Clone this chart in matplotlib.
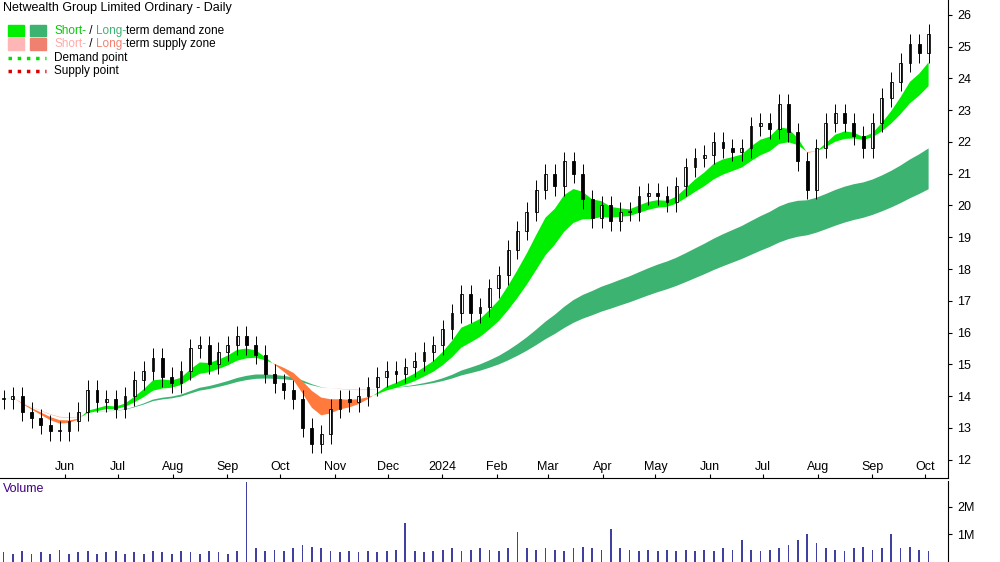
import matplotlib.pyplot as plt
import matplotlib.patches as mpatches
import numpy as np
import pandas as pd

plt.rcParams['font.family'] = ['Liberation Sans', 'DejaVu Sans']

# closing prices, roughly every 3-4 trading days
closes = [13.9, 14.0, 13.5, 13.3, 13.1, 12.9, 12.9, 13.2, 13.5, 14.2,
          13.8, 13.9, 13.6, 14.0, 14.5, 14.8, 15.2, 14.6, 14.4, 14.8,
          15.5, 15.6, 15.0, 15.4, 15.6, 15.9, 15.6, 15.3, 14.7, 14.4,
          14.2, 13.9, 13.0, 12.5, 12.8, 13.6, 13.9, 13.8, 14.0, 14.3,
          14.6, 14.8, 14.7, 14.9, 15.1, 15.4, 15.6, 16.1, 16.6, 17.2,
          16.6, 16.8, 17.4, 17.8, 18.6, 19.2, 19.8, 20.5, 21.0, 20.6,
          21.4, 21.0, 20.2, 19.6, 20.0, 19.5, 19.8, 19.8, 20.3, 20.4,
          20.3, 20.1, 20.6, 21.2, 21.5, 21.6, 22.0, 21.8, 21.7, 21.8,
          22.5, 22.6, 22.4, 23.2, 22.3, 21.4, 20.5, 21.8, 22.6, 22.9,
          22.6, 22.2, 21.8, 22.6, 23.4, 23.9, 24.5, 25.1, 24.8, 25.4]
volume = [0.35, 0.3, 0.4, 0.3, 0.35, 0.3, 0.45, 0.3, 0.35, 0.4,
          0.3, 0.35, 0.4, 0.3, 0.35, 0.3, 0.4, 0.35, 0.3, 0.4,
          0.35, 0.3, 0.4, 0.35, 0.3, 0.4, 2.9, 0.5, 0.4, 0.45,
          0.4, 0.5, 0.6, 0.55, 0.5, 0.4, 0.35, 0.4, 0.35, 0.4,
          0.35, 0.4, 0.45, 1.4, 0.4, 0.35, 0.4, 0.45, 0.5, 0.4,
          0.45, 0.5, 0.45, 0.4, 0.5, 1.1, 0.5, 0.45, 0.5, 0.45,
          0.4, 0.5, 0.55, 0.5, 0.45, 1.2, 0.5, 0.45, 0.4, 0.45,
          0.4, 0.45, 0.4, 0.45, 0.4, 0.45, 0.4, 0.5, 0.45, 0.8,
          0.45, 0.4, 0.45, 0.5, 0.6, 0.8, 1.0, 0.7, 0.5, 0.45,
          0.4, 0.5, 0.55, 0.45, 0.5, 1.0, 0.5, 0.55, 0.45, 0.4]

dates = pd.date_range('2023-04-27', '2024-10-03', periods=len(closes))
c = np.array(closes)
o = np.r_[c[0], c[:-1]]
hi = np.maximum(o, c) + 0.3
lo = np.minimum(o, c) - 0.3

s = pd.Series(c)
st_a, st_b = s.ewm(span=6).mean().values, s.ewm(span=12).mean().values
lt_a, lt_b = s.ewm(span=40).mean().values, s.ewm(span=70).mean().values

fig = plt.figure(figsize=(10, 5.62), dpi=100)
ax = fig.add_axes([0.0, 0.15, 0.948, 0.85])
axv = fig.add_axes([0.0, 0.0, 0.948, 0.145])
xlim = (pd.Timestamp('2023-04-25'), pd.Timestamp('2024-10-14'))

up = st_a >= st_b
ax.fill_between(dates, lt_a, lt_b, where=lt_a >= lt_b, color='#3cb371', lw=0, interpolate=True)
ax.fill_between(dates, lt_a, lt_b, where=lt_a < lt_b, color='#f4a58a', lw=0, interpolate=True)
ax.fill_between(dates, st_a, st_b, where=up, color='#00ee00', lw=0, interpolate=True)
ax.fill_between(dates, st_a, st_b, where=~up, color='#ff7a3c', lw=0, interpolate=True)

w = pd.Timedelta(days=1.6)
for d, oo, cc, h, l in zip(dates, o, c, hi, lo):
    ax.vlines(d, l, h, color='black', lw=0.7)
    face = 'white' if cc >= oo else 'black'
    ax.add_patch(mpatches.Rectangle((d - w / 2, min(oo, cc)), w, max(abs(cc - oo), 0.03),
                                    facecolor=face, edgecolor='black', lw=0.6))

ax.set_ylim(11.43, 26.47)
ax.set_xlim(*xlim)
ax.yaxis.tick_right()
ax.set_yticks(range(12, 27))
ax.tick_params(axis='y', labelsize=9, length=3)
ticks = pd.to_datetime(['2023-06-01', '2023-07-01', '2023-08-01', '2023-09-01', '2023-10-01',
                        '2023-11-01', '2023-12-01', '2024-01-01', '2024-02-01', '2024-03-01',
                        '2024-04-01', '2024-05-01', '2024-06-01', '2024-07-01', '2024-08-01',
                        '2024-09-01', '2024-10-01'])
labels = ['Jun', 'Jul', 'Aug', 'Sep', 'Oct', 'Nov', 'Dec', '2024', 'Feb', 'Mar', 'Apr',
          'May', 'Jun', 'Jul', 'Aug', 'Sep', 'Oct']
ax.set_xticks(ticks)
ax.set_xticklabels(labels)
ax.tick_params(axis='x', labelsize=9, length=3, direction='in', pad=-12)
for sp in ['top', 'left']:
    ax.spines[sp].set_visible(False)

ax.text(0.003, 0.995, 'Netwealth Group Limited Ordinary - Daily', transform=ax.transAxes,
        va='top', fontsize=9)
rows = [('#00ee00', '#3cb371', '#00cc00', '#3cb371', 'term demand zone'),
        ('#ffb6b6', '#f08070', '#ffaaaa', '#f08070', 'term supply zone')]
for i, (c1, c2, t1, t2, d) in enumerate(rows):
    y = 0.935 - i * 0.028
    ax.add_patch(mpatches.Rectangle((0.008, y - 0.011), 0.017, 0.024, color=c1, transform=ax.transAxes))
    ax.add_patch(mpatches.Rectangle((0.032, y - 0.011), 0.017, 0.024, color=c2, transform=ax.transAxes))
    t = ax.text(0.057, y, 'Short-', color=t1, transform=ax.transAxes, fontsize=8.5, va='center')
    t = ax.annotate(' / ', xy=(1, 0.5), xycoords=t, fontsize=8.5, va='center')
    t = ax.annotate('Long-', xy=(1, 0.5), xycoords=t, color=t2, fontsize=8.5, va='center')
    ax.annotate(d, xy=(1, 0.5), xycoords=t, fontsize=8.5, va='center')
for i, (col, lab) in enumerate([('#00dd00', 'Demand point'), ('#dd0000', 'Supply point')]):
    y = 0.879 - i * 0.028
    ax.plot([0.008, 0.049], [y, y], ls=':', lw=2.5, color=col, transform=ax.transAxes)
    ax.text(0.057, y, lab, transform=ax.transAxes, fontsize=8.5, va='center')

axv.bar(dates, volume, width=1.0, color='#4040a0')
axv.set_xlim(*xlim)
axv.set_ylim(0, 2.95)
axv.yaxis.tick_right()
axv.set_yticks([1, 2])
axv.set_yticklabels(['1M', '2M'])
axv.tick_params(axis='y', labelsize=9, length=3)
axv.tick_params(axis='x', bottom=False, labelbottom=False)
for sp in ['top', 'left', 'bottom']:
    axv.spines[sp].set_visible(False)
axv.text(0.003, 0.97, 'Volume', transform=axv.transAxes, va='top', fontsize=9, color='#400080')

fig.savefig('out.png')
